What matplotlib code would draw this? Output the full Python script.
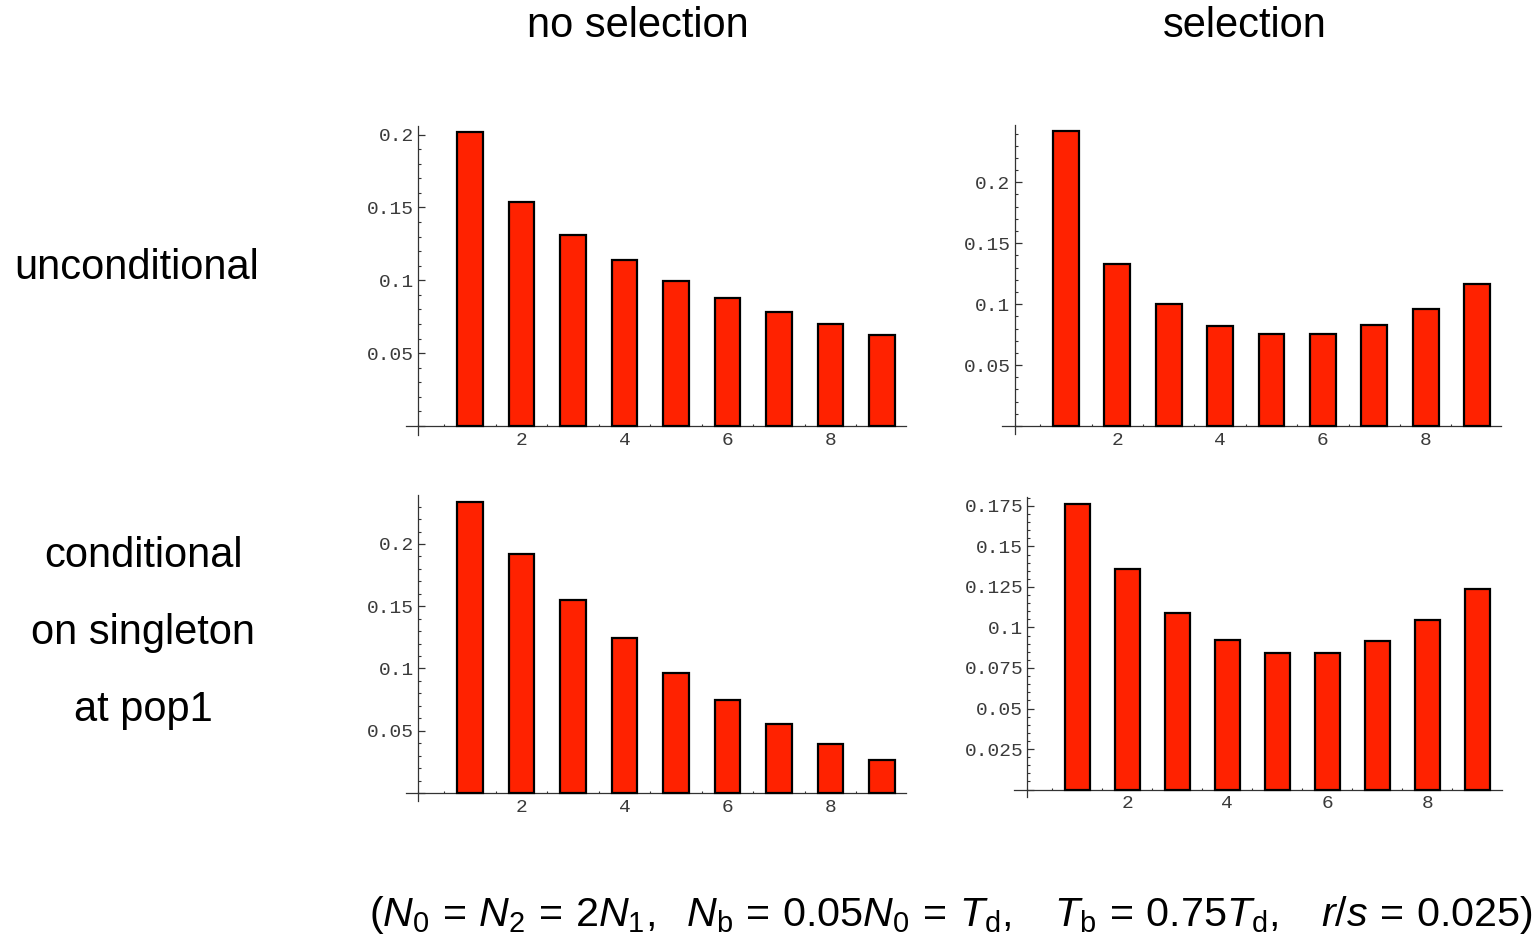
import matplotlib
matplotlib.use("Agg")
import matplotlib.pyplot as plt
from matplotlib.ticker import MultipleLocator, FuncFormatter

plt.rcParams["mathtext.fontset"] = "custom"
plt.rcParams["mathtext.rm"] = "Liberation Sans"
plt.rcParams["mathtext.it"] = "Liberation Sans:italic"

# Site-frequency classes
classes = [1, 2, 3, 4, 5, 6, 7, 8, 9]

# Frequency spectra for each case
uncond_nosel = [0.2016, 0.1537, 0.1313, 0.1136, 0.0995, 0.0876, 0.0779, 0.0700, 0.0624]
uncond_sel = [0.2417, 0.1326, 0.1000, 0.0820, 0.0751, 0.0751, 0.0829, 0.0961, 0.1166]
cond_nosel = [0.2339, 0.1917, 0.1547, 0.1243, 0.0965, 0.0744, 0.0557, 0.0395, 0.0267]
cond_sel = [0.1759, 0.1363, 0.1091, 0.0920, 0.0840, 0.0840, 0.0914, 0.1046, 0.1238]

col_titles = ["no selection", "selection"]
row1_title = "unconditional"
row2_lines = ["conditional", "on singleton", "at pop1"]
x_ticks = [2, 4, 6, 8]

W, H = 1539, 944
fig = plt.figure(figsize=(W / 100, H / 100), dpi=100)

BAR = "#ff2200"
MONO = "Liberation Mono"


def px_axes(left, right, top, bottom):
    return fig.add_axes([left / W, 1 - bottom / H, (right - left) / W, (bottom - top) / H])


# panel: data, pixel box, x-limits, y-limits, y tick step, minor step
panels = [
    (uncond_nosel, (405.6, 906.2, 125.8, 434.7), (-0.25, 9.47), (-0.006, 0.206), 0.05, 0.01),
    (uncond_sel, (1001.7, 1501.3, 125.0, 434.4), (-0.25, 9.47), (-0.0069, 0.247), 0.05, 0.01),
    (cond_nosel, (405.6, 906.2, 495.4, 801.0), (-0.25, 9.47), (-0.0064, 0.239), 0.05, 0.01),
    (cond_sel, (1013.9, 1501.7, 497.0, 797.0), (-0.27, 9.49), (-0.0046, 0.1805), 0.025, 0.005),
]

for vals, (l, r, t, b), xl, yl, step, mstep in panels:
    ax = px_axes(l, r, t, b)
    ax.bar(classes, vals, width=0.5, color=BAR, edgecolor="black", linewidth=1.6, zorder=3)
    ax.set_xlim(*xl)
    ax.set_ylim(*yl)
    for s in ("top", "right"):
        ax.spines[s].set_visible(False)
    ax.spines["left"].set_position(("data", 0))
    ax.spines["bottom"].set_position(("data", 0))
    for s in ("left", "bottom"):
        ax.spines[s].set_linewidth(0.9)
        ax.spines[s].set_color("#333333")
    ax.set_xticks(x_ticks)
    ax.xaxis.set_minor_locator(MultipleLocator(0.5))
    ax.yaxis.set_major_locator(MultipleLocator(step))
    ax.yaxis.set_minor_locator(MultipleLocator(mstep))
    ax.yaxis.set_major_formatter(FuncFormatter(lambda v, p: "" if abs(v) < 1e-9 else "{:g}".format(round(v, 4))))
    ax.tick_params(axis="both", which="both", direction="in", color="#333333")
    ax.tick_params(axis="y", which="major", length=5, width=0.9, pad=3, labelsize=14)
    ax.tick_params(axis="y", which="minor", length=2.5, width=0.8)
    ax.tick_params(axis="x", which="major", length=3, width=0.9, pad=4, labelsize=14)
    ax.tick_params(axis="x", which="minor", length=1.5, width=0.8)
    for lab in ax.get_xticklabels() + ax.get_yticklabels():
        lab.set_fontfamily(MONO)
        lab.set_color("#3a3a3a")
    ax.patch.set_visible(False)

TXT = dict(fontsize=30, family="Liberation Sans", color="black", ha="center", va="center")
fig.text(638 / W, 1 - 26 / H, col_titles[0], **TXT)
fig.text(1245 / W, 1 - 26 / H, col_titles[1], **TXT)
fig.text(137 / W, 1 - 268 / H, row1_title, **TXT)
for i, line in enumerate(row2_lines):
    fig.text(143 / W, 1 - (556 + 77 * i) / H, line, **TXT)

caption = (r"$(N_0\,=\,N_2\,=\,2N_1,\ \ N_{\rm b}\,=\,0.05N_0\,=\,T_{\rm d},\ \ \ "
           r"T_{\rm b}\,=\,0.75T_{\rm d},\ \ \ r/s\,=\,0.025)$")
fig.text(951 / W, 1 - 915 / H, caption, ha="center", va="center", fontsize=29.7, color="black")

fig.savefig("out.png", dpi=100, facecolor="white")
